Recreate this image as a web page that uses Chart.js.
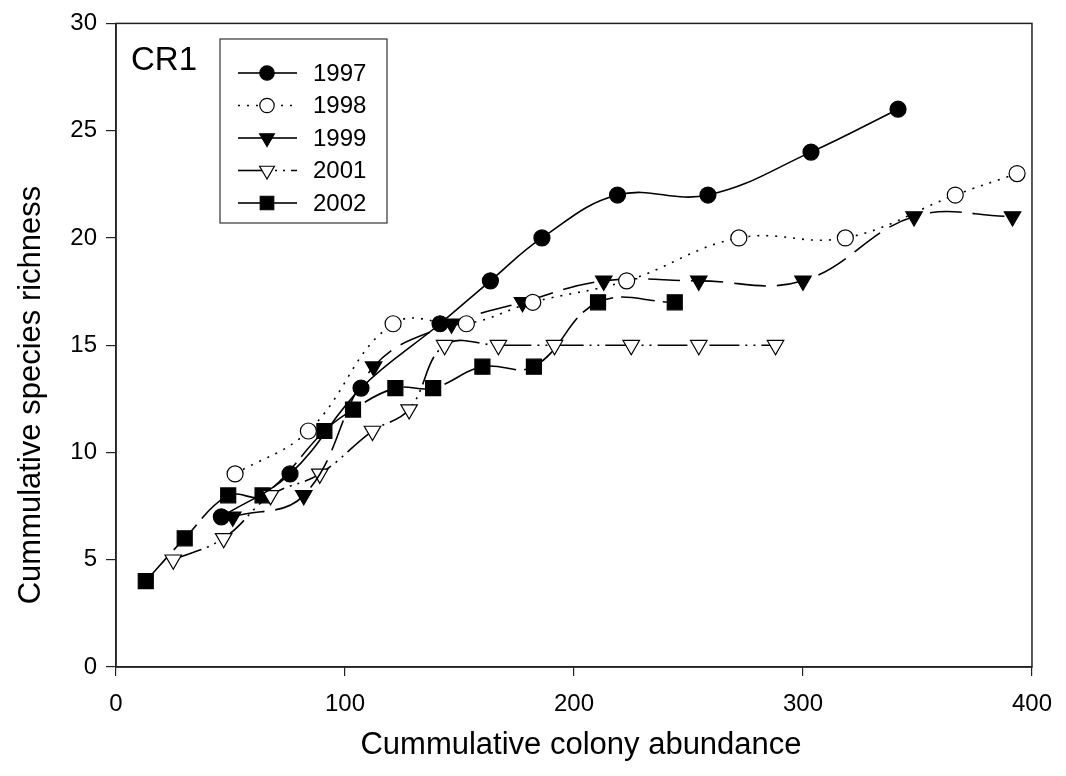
<!DOCTYPE html>
<html>
<head>
<meta charset="utf-8">
<script src="https://cdn.jsdelivr.net/npm/chart.js@4.4.1/dist/chart.umd.min.js"></script>
<style>
    body { margin: 0; background: #fff; }
    canvas { display: block; }
</style>
</head>
<body>
<canvas id="richnessChart" width="1066" height="776"></canvas>
<script>
// Data (x = cummulative colony abundance, y = cummulative species richness)
const seriesNames = ['1997', '1998', '1999', '2001', '2002'];

const x1997 = [46, 76, 107, 141.5, 163.5, 186, 219, 258.5, 303.5, 341.5];
const y1997 = [7, 9, 13, 16, 18, 20, 22, 22, 24, 26];

const x1998 = [52, 84, 121, 153, 182, 223, 272, 318.5, 366.5, 393.5];
const y1998 = [9, 11, 16, 16, 17, 18, 20, 20, 22, 23];

const x1999 = [51, 82, 112.5, 146.5, 177.5, 213, 254.5, 300, 348.5, 391.5];
const y1999 = [7, 8, 14, 16, 17, 18, 18, 18, 21, 21];

const x2001 = [25, 47, 67.5, 89, 112, 128, 143.5, 167, 191.5, 225, 254.5, 288];
const y2001 = [5, 6, 8, 9, 11, 12, 15, 15, 15, 15, 15, 15];

const x2002 = [13, 30, 49, 64, 91, 103.5, 122, 138.5, 160, 182.5, 210.5, 244];
const y2002 = [4, 6, 8, 8, 11, 12, 13, 13, 14, 14, 17, 17];

const xTicks = [0, 100, 200, 300, 400];
const yTicks = [0, 5, 10, 15, 20, 25, 30];

const xTitle = 'Cummulative colony abundance';
const yTitle = 'Cummulative species richness';
const panelLabel = 'CR1';

const FONT = "'Liberation Sans', Arial, sans-serif";

// x/y listelerini nokta dizisine çevir
function toPoints(xs, ys) {
    return xs.map((x, i) => ({ x: x, y: ys[i] }));
}

function makeDataset(label, xs, ys, style) {
    return Object.assign({
        label: label,
        data: toPoints(xs, ys),
        showLine: true,
        tension: 0.4,
        borderColor: '#000',
        borderWidth: 1.6,
        pointBorderColor: '#000',
        pointBorderWidth: 1.2,
        pointHoverRadius: 0,
        legendRightOffset: 0
    }, style);
}

const datasets = [
    makeDataset(seriesNames[0], x1997, y1997, {
        pointStyle: 'circle', pointRadius: 8, pointBackgroundColor: '#000', borderDash: []
    }),
    makeDataset(seriesNames[1], x1998, y1998, {
        pointStyle: 'circle', pointRadius: 8, pointBackgroundColor: '#fff', borderDash: [2, 7]
    }),
    makeDataset(seriesNames[2], x1999, y1999, {
        pointStyle: 'triangle', pointRotation: 180, pointRadius: 9.5, pointBackgroundColor: '#000', borderDash: [32, 11]
    }),
    makeDataset(seriesNames[3], x2001, y2001, {
        pointStyle: 'triangle', pointRotation: 180, pointRadius: 9.5, pointBackgroundColor: '#fff',
        borderDash: [30, 6, 2, 6, 2, 6], legendRightOffset: 33
    }),
    makeDataset(seriesNames[4], x2002, y2002, {
        pointStyle: 'rect', pointRadius: 10.6, pointBackgroundColor: '#000', borderDash: [34, 8]
    })
];

function strokeSegment(ctx, x1, x2, y, dash, offset) {
    ctx.setLineDash(dash);
    ctx.lineDashOffset = offset;
    ctx.beginPath();
    ctx.moveTo(x1, y);
    ctx.lineTo(x2, y);
    ctx.stroke();
}

// Frame, axis titles, "CR1" label and the boxed legend
const decorPlugin = {
    id: 'decor',
    afterDraw(chart) {
        const ctx = chart.ctx;
        const area = chart.chartArea;
        ctx.save();

        ctx.strokeStyle = '#222';
        ctx.lineWidth = 1.5;
        ctx.strokeRect(area.left, area.top, area.right - area.left, area.bottom - area.top);

        // axis titles
        ctx.fillStyle = '#000';
        ctx.font = '31px ' + FONT;
        ctx.textAlign = 'center';
        ctx.textBaseline = 'middle';
        ctx.fillText(xTitle, 581, 745);
        ctx.save();
        ctx.translate(31, 395);
        ctx.rotate(-Math.PI / 2);
        ctx.fillText(yTitle, 0, 0);
        ctx.restore();

        ctx.font = '33px ' + FONT;
        ctx.textBaseline = 'alphabetic';
        ctx.textAlign = 'left';
        ctx.fillText(panelLabel, 131, 70);

        // legend box
        ctx.fillStyle = '#fff';
        ctx.fillRect(220, 39, 167, 184);
        ctx.strokeStyle = '#333';
        ctx.lineWidth = 1.2;
        ctx.strokeRect(220, 39, 167, 184);

        chart.data.datasets.forEach((ds, i) => {
            const rowY = 73 + i * 32.5;
            ctx.save();
            ctx.strokeStyle = '#000';
            ctx.lineWidth = ds.borderWidth;
            strokeSegment(ctx, 238, 262, rowY, ds.borderDash, 0);
            strokeSegment(ctx, 272, 297, rowY, ds.borderDash, ds.legendRightOffset);
            ctx.restore();

            ctx.fillStyle = ds.pointBackgroundColor;
            ctx.strokeStyle = '#000';
            ctx.lineWidth = ds.pointBorderWidth;
            Chart.helpers.drawPoint(ctx, {
                pointStyle: ds.pointStyle,
                rotation: ds.pointRotation || 0,
                radius: ds.pointRadius * 0.9,
                borderWidth: ds.pointBorderWidth
            }, 267, rowY);

            ctx.fillStyle = '#000';
            ctx.font = '24px ' + FONT;
            ctx.textBaseline = 'middle';
            ctx.textAlign = 'left';
            ctx.fillText(ds.label, 313, rowY + 1);
        });

        ctx.restore();
    }
};

const chartCtx = document.getElementById('richnessChart').getContext('2d');

new Chart(chartCtx, {
    type: 'scatter',
    data: { datasets: datasets },
    options: {
        responsive: false,
        devicePixelRatio: 1,
        animation: false,
        layout: { padding: { top: 19, right: 25, bottom: 0, left: 0 } },
        plugins: {
            legend: { display: false },
            tooltip: { enabled: false }
        },
        scales: {
            x: {
                type: 'linear',
                min: 0,
                max: 400,
                afterFit: (scale) => { scale.height = 109; },
                afterBuildTicks: (scale) => { scale.ticks = xTicks.map(v => ({ value: v })); },
                border: { color: '#222', width: 1.5 },
                grid: { drawOnChartArea: false, tickLength: 9, color: '#222', lineWidth: 1.2 },
                ticks: {
                    color: '#000',
                    padding: 14,
                    maxRotation: 0,
                    font: { family: FONT, size: 24 }
                }
            },
            y: {
                type: 'linear',
                min: 0,
                max: 30,
                afterFit: (scale) => { scale.width = 116; },
                afterBuildTicks: (scale) => { scale.ticks = yTicks.map(v => ({ value: v })); },
                border: { color: '#222', width: 1.5 },
                grid: { drawOnChartArea: false, tickLength: 10, color: '#222', lineWidth: 1.2 },
                ticks: {
                    color: '#000',
                    padding: 9,
                    font: { family: FONT, size: 24 }
                }
            }
        }
    },
    plugins: [decorPlugin]
});
</script>
</body>
</html>
